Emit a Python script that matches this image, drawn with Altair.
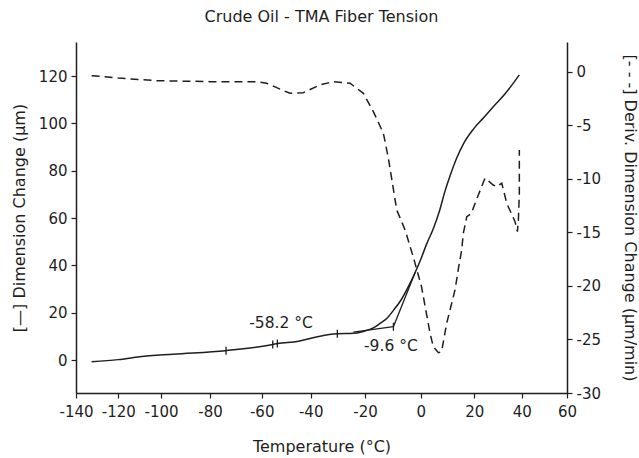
import altair as alt
import pandas as pd

# ---- data ----
x_ticks = [-140, -120, -100, -80, -60, -40, -20, 0, 20, 40, 60]
left_ticks = [0, 20, 40, 60, 80, 100, 120]
right_ticks = [-30, -25, -20, -15, -10, -5, 0]

# Dimension change (solid, left axis, µm)
solid_T = [-132.6, -120, -110, -95, -74, -55.5, -53.6, -45, -42, -36.6, -30.2, -24.3,
           -21, -17, -14.6, -12, -9.8, -7, -3.8, -2, 0, 2.2, 4.7, 7, 9.1, 11, 13.4,
           16, 19.6, 24, 28, 33, 39]
solid_V = [-0.7, 0.2, 1.4, 2.5, 4.0, 6.6, 7.0, 8.0, 8.7, 10.1, 11.1, 11.3,
           12.0, 13.6, 15.5, 17.8, 21.0, 25.5, 32.5, 37, 42.5, 49, 55.5, 63, 71.5, 78, 85.3,
           91.5, 97.5, 102.5, 107, 112.5, 120.5]

# Derivative of dimension change (dashed, right axis, µm/min)
deriv_T = [-132.6, -120, -102, -80, -61.9, -58, -48.5, -43, -36.6, -31.7, -25.5, -20.6,
           -17, -13.4, -11.6, -8.6, -5.6, -2.7, 0.3, 3.5, 4.7, 6.6, 7.8, 9.7, 12.8, 14.1,
           15.3, 15.9, 17.2, 19.0, 19.6, 21.7, 24.5, 28.0, 29.5, 31.6, 32.3, 33.7, 37.2,
           38.2, 38.6, 39.0, 39.0]
deriv_V = [-0.37, -0.6, -0.84, -0.93, -0.93, -1.08, -2.02, -1.96, -1.24, -0.93, -1.08, -2.02,
           -3.73, -5.75, -8.09, -12.91, -14.78, -17.27, -20.07, -24.43, -25.68, -26.24, -26.14,
           -23.49, -20.38, -18.35, -16.64, -15.09, -13.54, -13.22, -12.75, -11.51, -9.95,
           -10.58, -10.74, -10.42, -11.05, -12.29, -14.01, -14.94, -13.85, -11.35, -7.31]

# analysis marks on the solid curve
mark_T = [-73.8, -55.5, -53.6, -30.2, -9.8]
mark_V = [4.0, 6.6, 7.0, 11.1, 14.1]

# onset tangent construction
tangent_seg = ["base", "base", "steep", "steep"]
tangent_T = [-24.3, -9.8, -9.8, -2.0]
tangent_V = [11.8, 14.1, 14.1, 37.0]

# annotations
label_text = ["-58.2 °C", "-9.6 °C"]
label_T = [-52.1, -10.7]
label_V = [15.6, 5.9]

# ---- chart ----
FONT = "DejaVu Sans"
INK = "#1e1e1e"

df_solid = pd.DataFrame({"t": solid_T, "v": solid_V})
df_deriv = pd.DataFrame({"t": deriv_T, "d": deriv_V, "i": list(range(len(deriv_T)))})
df_marks = pd.DataFrame({"t": mark_T, "v": mark_V})
df_tan = pd.DataFrame({"t": tangent_T, "v": tangent_V, "seg": tangent_seg})
df_lab = pd.DataFrame({"t": label_T, "v": label_V, "txt": label_text})

x_enc = alt.X(
    "t:Q",
    scale=alt.Scale(domain=x_ticks,
                    range=[0, 42.3, 85, 134, 185.7, 234.7, 289, 344.7, 398.3, 445.7, 491]),
    axis=alt.Axis(values=x_ticks, title="Temperature (°C)", labelExpr="'' + datum.value",
                  labelPadding=6, titlePadding=19, labelOverlap=False, labelFlush=False),
)
y_left = alt.Y(
    "v:Q",
    scale=alt.Scale(domain=[-13.9, 134.4], nice=False, zero=False),
    axis=alt.Axis(values=left_ticks, title="[—] Dimension Change (µm)",
                  labelExpr="'' + datum.value", labelPadding=4, titlePadding=11,
                  labelOverlap=False),
)
y_right = alt.Y(
    "d:Q",
    scale=alt.Scale(domain=[-30, 2.77], nice=False, zero=False),
    axis=alt.Axis(values=right_ticks, orient="right",
                  title="[- - -] Deriv. Dimension Change (µm/min)",
                  labelExpr="'' + datum.value", labelPadding=4, titlePadding=21,
                  labelOverlap=False),
)

solid = alt.Chart(df_solid).mark_line(color=INK, strokeWidth=1.5, interpolate="monotone").encode(
    x=x_enc, y=y_left)
tangents = alt.Chart(df_tan).mark_line(color=INK, strokeWidth=1.3).encode(
    x=x_enc, y=y_left, detail="seg:N")
ticks = alt.Chart(df_marks).mark_point(shape="M0,-1L0,1", size=64, color=INK,
                                       strokeWidth=1.3, opacity=1).encode(x=x_enc, y=y_left)
labels = alt.Chart(df_lab).mark_text(font=FONT, fontSize=15.5, color=INK,
                                     align="center", baseline="middle").encode(
    x=x_enc, y=y_left, text="txt:N")

deriv = alt.Chart(df_deriv).mark_line(color=INK, strokeWidth=1.5, strokeDash=[8, 5]).encode(
    x=x_enc, y=y_right, order="i:Q")

chart = alt.layer(alt.layer(solid, tangents, ticks, labels), deriv).resolve_scale(
    y="independent"
).properties(
    width=491,
    height=351,
    autosize=alt.AutoSizeParams(type="none"),
    padding={"left": 76, "top": 42, "right": 72, "bottom": 65},
    background="white",
    title=alt.TitleParams("Crude Oil - TMA Fiber Tension", font=FONT, fontSize=16,
                          fontWeight="normal", color=INK, anchor="middle", offset=17),
).configure_view(stroke=None).configure_axis(
    grid=False, labelFont=FONT, titleFont=FONT, labelFontSize=15, titleFontSize=16,
    titleFontWeight="normal", labelColor=INK, titleColor=INK, domainColor=INK,
    tickColor=INK, domainWidth=1.5, tickWidth=1.2, tickSize=5,
)

chart.save("out.html", embed_options={"renderer": "svg", "actions": False})
